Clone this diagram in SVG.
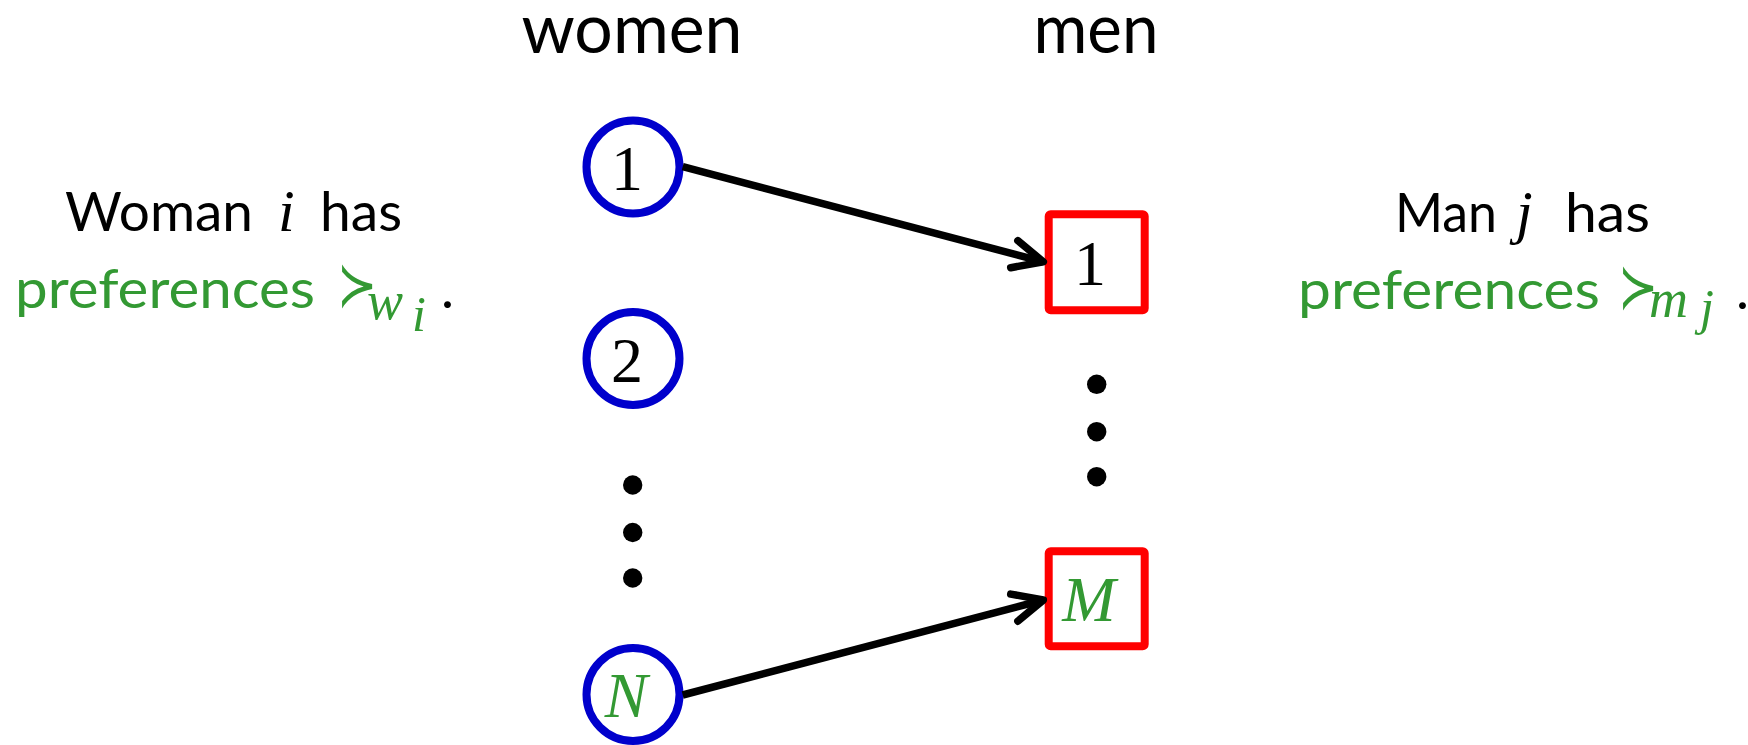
<svg xmlns="http://www.w3.org/2000/svg" width="1748" height="745" viewBox="0 0 1748 745">
<style>
.sans{font-family:Lato,"Open Sans","Liberation Sans",sans-serif;}
.math{font-family:"Liberation Serif","DejaVu Serif",serif;}
.sym{font-family:"DejaVu Sans",sans-serif;}
.it{font-style:italic;}
.grn{fill:#339933;}
.blk{fill:#000;}
.woman{fill:#fff;stroke:#0000CC;stroke-width:8;}
.man{fill:#fff;stroke:#FF0000;stroke-width:8;stroke-linejoin:round;}
.dot{fill:#000;}
.edge{stroke:#000;stroke-width:7.5;fill:none;}
</style>
<defs>
<marker id="arrow" markerUnits="userSpaceOnUse" markerWidth="60" markerHeight="60" viewBox="-40 -30 50 60" refX="0" refY="0" orient="auto">
<path d="M-30,-14 L0,0 L-30,14" fill="none" stroke="#000" stroke-width="7.5" stroke-linecap="round" stroke-linejoin="round"/>
</marker>
</defs>
<rect width="1748" height="745" fill="#fff"/>
<g id="headers">
<text class="sans" x="632" y="53" font-size="69" text-anchor="middle" textLength="221" lengthAdjust="spacingAndGlyphs">women</text>
<text class="sans" x="1096" y="53" font-size="69" text-anchor="middle" textLength="125" lengthAdjust="spacingAndGlyphs">men</text>
</g>
<g id="left-label">
<text class="sans" x="65" y="231" font-size="55" textLength="188" lengthAdjust="spacingAndGlyphs">Woman</text>
<text class="math it" x="278" y="231" font-size="60">i</text>
<text class="sans" x="320" y="231" font-size="55" textLength="82" lengthAdjust="spacingAndGlyphs">has</text>
<text class="sans grn" x="15" y="307.7" font-size="55" textLength="300" lengthAdjust="spacingAndGlyphs">preferences</text>
<text class="sym grn" transform="translate(337,306) scale(1,1.3)" font-size="48">≻</text>
<text class="math it grn" x="367" y="319" font-size="54">w</text>
<text class="math it grn" x="412" y="331" font-size="50">i</text>
<text class="sans blk" x="441" y="307.7" font-size="55">.</text>
</g>
<g id="right-label">
<text class="sans" x="1395" y="231.7" font-size="55" textLength="102" lengthAdjust="spacingAndGlyphs">Man</text>
<text class="math it" x="1516" y="231.7" font-size="60">j</text>
<text class="sans" x="1565" y="231.7" font-size="55" textLength="85" lengthAdjust="spacingAndGlyphs">has</text>
<text class="sans grn" x="1298" y="309" font-size="55" textLength="302" lengthAdjust="spacingAndGlyphs">preferences</text>
<text class="sym grn" transform="translate(1618,307.5) scale(1,1.3)" font-size="48">≻</text>
<text class="math it grn" x="1649" y="316.7" font-size="54">m</text>
<text class="math it grn" x="1700" y="324" font-size="50">j</text>
<text class="sans blk" x="1736" y="309" font-size="55">.</text>
</g>
<g id="woman-1">
<circle class="woman" cx="633" cy="167" r="46.5"/>
<text class="math blk" x="627" y="190" font-size="64" text-anchor="middle">1</text>
</g>
<g id="woman-2">
<circle class="woman" cx="633" cy="358.5" r="46.5"/>
<text class="math blk" x="627" y="381.7" font-size="64" text-anchor="middle">2</text>
</g>
<g id="women-dots">
<circle class="dot" cx="632.7" cy="485" r="9.7"/>
<circle class="dot" cx="632.7" cy="532.5" r="9.7"/>
<circle class="dot" cx="632.7" cy="578" r="9.7"/>
</g>
<g id="woman-N">
<circle class="woman" cx="633" cy="694.5" r="46.5"/>
<text class="math it grn" x="626" y="717.3" font-size="64" text-anchor="middle">N</text>
</g>
<g id="man-1">
<rect class="man" x="1048.7" y="214.3" width="96" height="96" rx="2"/>
<text class="math blk" x="1090" y="285" font-size="64" text-anchor="middle">1</text>
</g>
<g id="men-dots">
<circle class="dot" cx="1096.7" cy="384.3" r="9.7"/>
<circle class="dot" cx="1096.7" cy="431.7" r="9.7"/>
<circle class="dot" cx="1096.7" cy="476.7" r="9.7"/>
</g>
<g id="man-M">
<rect class="man" x="1048.7" y="551.3" width="96" height="95" rx="2"/>
<text class="math it grn" x="1089" y="621" font-size="64" text-anchor="middle">M</text>
</g>
<g id="connectors">
<line class="edge" x1="682.7" y1="166.7" x2="1043.3" y2="261.8" marker-end="url(#arrow)"/>
<line class="edge" x1="682.7" y1="695" x2="1043.3" y2="600" marker-end="url(#arrow)"/>
</g>
</svg>
